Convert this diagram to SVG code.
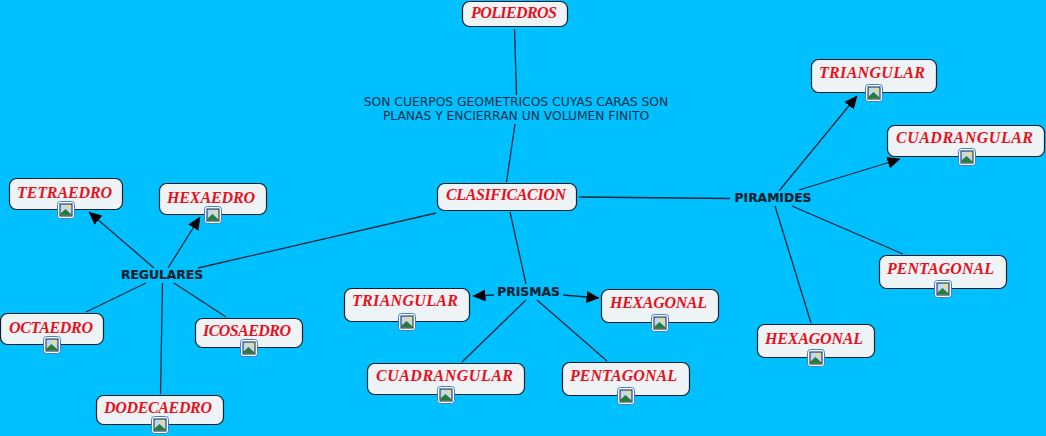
<svg xmlns="http://www.w3.org/2000/svg" width="1046" height="436" viewBox="0 0 1046 436">
<style>
.n{fill:#eef3f6;stroke:#0a1f2e;stroke-width:1.2}
.t{font-family:"Liberation Serif",serif;font-style:italic;font-weight:bold;font-size:16px;fill:#e8101c;text-anchor:middle}
.b{font-family:"DejaVu Sans",sans-serif;font-weight:bold;font-size:12.300px;fill:#02202e;text-anchor:middle;stroke:#02202e;stroke-width:0.2}
.d{font-family:"DejaVu Sans",sans-serif;font-size:12.300px;fill:#02304a;text-anchor:middle}
.c{fill:none;stroke:#04293c;stroke-width:1.3}
</style>
<defs>
<marker id="a" markerUnits="userSpaceOnUse" markerWidth="13" markerHeight="12" refX="12.500" refY="6" orient="auto"><path d="M0 0L13 6L0 12Z" fill="#000"/></marker>
<symbol id="i" width="18" height="18" viewBox="0 0 18 18" overflow="visible">
<rect x="0.500" y="0.500" width="17" height="17" rx="3" fill="#fff" stroke="#3f7fd0"/>
<rect x="3" y="3" width="12" height="12" fill="#c4d8ee" stroke="#08204a"/>
<circle cx="11.500" cy="6" r="1.800" fill="#f4e25a"/>
<path d="M3.500 14.500L3.500 12.500L8.500 8L14.500 13.500L14.500 14.500Z" fill="#2a7a3a"/>
</symbol>
</defs>
<rect width="1046" height="436" fill="#00c0ff"/>
<g id="connectors">
<path class="c" d="M514.500 29L516.500 95"/>
<path class="c" d="M515 124L506.500 182"/>
<path class="c" d="M579 197L730 198.500"/>
<path class="c" d="M436 213L198 268"/>
<path class="c" d="M510 212L526 284"/>
<path class="c" d="M154 268L89 212" marker-end="url(#a)"/>
<path class="c" d="M168 268L200 217" marker-end="url(#a)"/>
<path class="c" d="M146 283L86 312"/>
<path class="c" d="M162.500 283L160.500 394"/>
<path class="c" d="M174 283L226 317"/>
<path class="c" d="M494 295L473 296" marker-end="url(#a)"/>
<path class="c" d="M563 295L599 298" marker-end="url(#a)"/>
<path class="c" d="M526 300L462 362"/>
<path class="c" d="M537 300L607 361"/>
<path class="c" d="M779 191L857 96" marker-end="url(#a)"/>
<path class="c" d="M799 190L900 159" marker-end="url(#a)"/>
<path class="c" d="M792 206L903 254"/>
<path class="c" d="M775 206L811 323"/>
</g>
<g id="poliedros"><rect class="n" x="462.500" y="1.500" width="105" height="25" rx="7"/><text class="t" x="514" y="18" textLength="86">POLIEDROS</text></g>
<g id="descripcion"><text class="d" x="516" y="106">SON CUERPOS GEOMETRICOS CUYAS CARAS SON</text><text class="d" x="516" y="120">PLANAS Y ENCIERRAN UN VOLUMEN FINITO</text></g>
<g id="clasificacion"><rect class="n" x="437.500" y="183.500" width="139" height="27" rx="7"/><text class="t" x="506" y="200" textLength="120">CLASIFICACION</text></g>
<g id="regulares"><text class="b" x="162" y="279">REGULARES</text></g>
<g id="prismas"><text class="b" x="528.500" y="296">PRISMAS</text></g>
<g id="piramides"><text class="b" x="773" y="202">PIRAMIDES</text></g>
<g id="tetraedro"><rect class="n" x="9.500" y="178.500" width="113" height="31" rx="7"/><text class="t" x="64.500" y="198" textLength="95">TETRAEDRO</text><use href="#i" x="57" y="201"/></g>
<g id="hexaedro"><rect class="n" x="159.500" y="183.500" width="107" height="31" rx="7"/><text class="t" x="211" y="203" textLength="88">HEXAEDRO</text><use href="#i" x="204" y="206"/></g>
<g id="octaedro"><rect class="n" x="0.500" y="313.500" width="103" height="31" rx="7"/><text class="t" x="51" y="333" textLength="84">OCTAEDRO</text><use href="#i" x="43" y="336"/></g>
<g id="icosaedro"><rect class="n" x="195.500" y="318.500" width="107" height="29" rx="7"/><text class="t" x="247" y="336" textLength="88">ICOSAEDRO</text><use href="#i" x="240" y="339"/></g>
<g id="dodecaedro"><rect class="n" x="96.500" y="395.500" width="127" height="29" rx="7"/><text class="t" x="158" y="413" textLength="108">DODECAEDRO</text><use href="#i" x="151" y="416"/></g>
<g id="prisma-triangular"><rect class="n" x="344.500" y="288.500" width="125" height="33" rx="7"/><text class="t" x="405" y="306" textLength="106">TRIANGULAR</text><use href="#i" x="398" y="313"/></g>
<g id="prisma-hexagonal"><rect class="n" x="601.500" y="289.500" width="117" height="33" rx="7"/><text class="t" x="658.500" y="308" textLength="97">HEXAGONAL</text><use href="#i" x="651" y="314"/></g>
<g id="prisma-cuadrangular"><rect class="n" x="367.500" y="363.500" width="157" height="31" rx="7"/><text class="t" x="444.500" y="381" textLength="137">CUADRANGULAR</text><use href="#i" x="437" y="386"/></g>
<g id="prisma-pentagonal"><rect class="n" x="562.500" y="362.500" width="127" height="33" rx="7"/><text class="t" x="623.500" y="381" textLength="107">PENTAGONAL</text><use href="#i" x="617" y="387"/></g>
<g id="piramide-triangular"><rect class="n" x="811.500" y="59.500" width="125" height="33" rx="7"/><text class="t" x="872" y="78" textLength="106">TRIANGULAR</text><use href="#i" x="865" y="84"/></g>
<g id="piramide-cuadrangular"><rect class="n" x="887.500" y="125.500" width="157" height="31" rx="7"/><text class="t" x="964.500" y="143" textLength="137">CUADRANGULAR</text><use href="#i" x="958" y="148"/></g>
<g id="piramide-pentagonal"><rect class="n" x="879.500" y="255.500" width="127" height="33" rx="7"/><text class="t" x="940.500" y="274" textLength="107">PENTAGONAL</text><use href="#i" x="934" y="280"/></g>
<g id="piramide-hexagonal"><rect class="n" x="757.500" y="324.500" width="117" height="33" rx="7"/><text class="t" x="814" y="344" textLength="98">HEXAGONAL</text><use href="#i" x="807" y="349"/></g>
</svg>
